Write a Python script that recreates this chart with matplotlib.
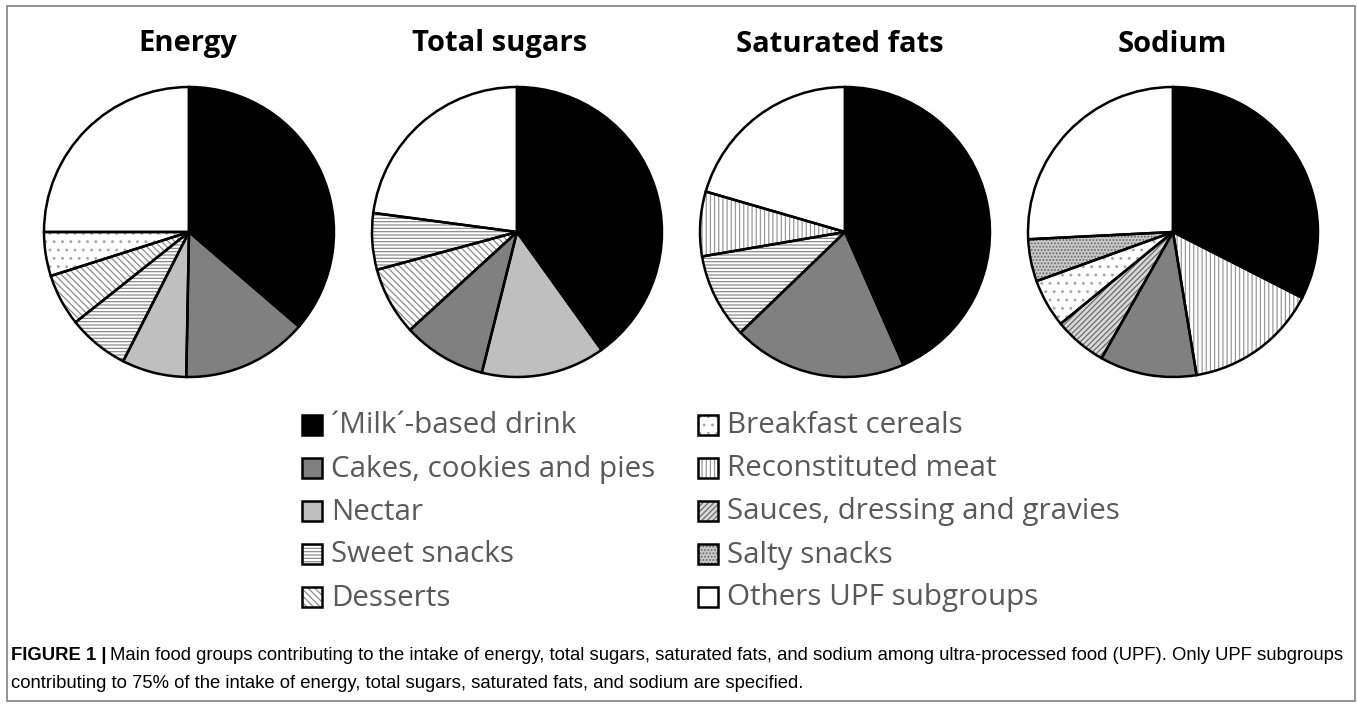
import matplotlib.pyplot as plt
from matplotlib.patches import Rectangle

plt.rcParams['hatch.linewidth'] = 0.9

W, H = 1357, 708
fig = plt.figure(figsize=(W / 100, H / 100), dpi=100)

# data (shares in %, clockwise from 12 o'clock)
titles = ['Energy', 'Total sugars', 'Saturated fats', 'Sodium']

energy_groups = ['milk', 'cakes', 'nectar', 'sweet', 'desserts', 'cereals', 'others']
energy_share = [36.3, 14.0, 7.2, 6.8, 5.8, 4.9, 25.0]

sugars_groups = ['milk', 'nectar', 'cakes', 'desserts', 'sweet', 'others']
sugars_share = [40.1, 13.8, 9.3, 7.6, 6.3, 22.9]

fats_groups = ['milk', 'cakes', 'sweet', 'meat', 'others']
fats_share = [43.4, 19.4, 9.5, 7.2, 20.5]

sodium_groups = ['milk', 'meat', 'cakes', 'sauces', 'cereals', 'salty', 'others']
sodium_share = [32.5, 14.9, 10.8, 5.9, 5.4, 4.7, 25.8]

legend_left = ['milk', 'cakes', 'nectar', 'sweet', 'desserts']
legend_right = ['cereals', 'meat', 'sauces', 'salty', 'others']

names = {
    'milk': '\u00b4Milk\u00b4-based drink',
    'cakes': 'Cakes, cookies and pies',
    'nectar': 'Nectar',
    'sweet': 'Sweet snacks',
    'desserts': 'Desserts',
    'cereals': 'Breakfast cereals',
    'meat': 'Reconstituted meat',
    'sauces': 'Sauces, dressing and gravies',
    'salty': 'Salty snacks',
    'others': 'Others UPF subgroups',
}

caption_1 = ('Main food groups contributing to the intake of energy, total sugars, '
             'saturated fats, and sodium among ultra-processed food (UPF). Only UPF subgroups')
caption_2 = ('contributing to 75% of the intake of energy, total sugars, saturated fats, '
             'and sodium are specified.')

# face colour, hatch, hatch colour
styles = {
    'milk': ('#000000', None, '#000000'),
    'cakes': ('#808080', None, '#808080'),
    'nectar': ('#bfbfbf', None, '#bfbfbf'),
    'sweet': ('white', '-----', '#8c8c8c'),
    'desserts': ('white', '\\\\\\\\\\', '#8c8c8c'),
    'cereals': ('white', '..', '#a8a8a8'),
    'meat': ('white', '||||', '#9a9a9a'),
    'sauces': ('#d8d8d8', '//////', '#6e6e6e'),
    'salty': ('#c8c8c8', '.....', '#6a6a6a'),
    'others': ('white', None, 'white'),
}

pies = [(energy_groups, energy_share), (sugars_groups, sugars_share),
        (fats_groups, fats_share), (sodium_groups, sodium_share)]
centers = [189, 517, 845, 1173]
title_x = [188, 500, 840, 1172]
cy, r, pad = 232, 145, 1.05


def fx(px):
    return px / W


def fy(py):
    return 1 - py / H


for (groups, share), cx, tx, title in zip(pies, centers, title_x, titles):
    ax = fig.add_axes([fx(cx - r * pad), fy(cy + r * pad),
                       2 * r * pad / W, 2 * r * pad / H])
    wedges, _ = ax.pie(share, startangle=90, counterclock=False,
                       wedgeprops=dict(linewidth=0))
    for w, g in zip(wedges, groups):
        fc, hatch, hc = styles[g]
        w.set_facecolor(fc)
        w.set_edgecolor(hc)
        if hatch:
            w.set_hatch(hatch)
    # black outlines on top
    ax.pie(share, startangle=90, counterclock=False,
           wedgeprops=dict(fill=False, edgecolor='black', linewidth=1.8))
    ax.set_xlim(-pad, pad)
    ax.set_ylim(-pad, pad)
    ax.axis('off')
    fig.text(fx(tx), fy(44), title, ha='center', va='center',
             fontsize=21, fontweight='bold', family='Open Sans', color='black')

# legend, two columns
row_y = [425, 468, 511, 554, 597]
for col, (mx, tx0) in zip([legend_left, legend_right], [(302, 331), (698, 727)]):
    for g, yy in zip(col, row_y):
        fc, hatch, hc = styles[g]
        s = 20
        fig.add_artist(Rectangle((fx(mx), fy(yy + s / 2)), s / W, s / H,
                                 transform=fig.transFigure, facecolor=fc,
                                 edgecolor=hc, hatch=hatch, linewidth=0))
        fig.add_artist(Rectangle((fx(mx), fy(yy + s / 2)), s / W, s / H,
                                 transform=fig.transFigure, fill=False,
                                 edgecolor='black', linewidth=1.8))
        fig.text(fx(tx0), fy(yy + 1), names[g], ha='left', va='center',
                 fontsize=21.3, family='Open Sans', color='#595959')

# frame and caption
fig.add_artist(Rectangle((fx(7), fy(701)), (1355 - 7) / W, (701 - 6) / H,
                         transform=fig.transFigure, fill=False,
                         edgecolor='#808080', linewidth=1.2))

cap_font = dict(fontsize=13.3, family='Liberation Sans', va='center', ha='left')
renderer = fig.canvas.get_renderer()
bold = fig.text(fx(11), fy(656), 'FIGURE 1 |', fontweight='bold', **cap_font)
bb = bold.get_window_extent(renderer)
fig.text((bb.x1 + 4) / W, fy(656), caption_1, **cap_font)
fig.text(fx(11), fy(683), caption_2, **cap_font)

fig.savefig('out.png', dpi=100)
